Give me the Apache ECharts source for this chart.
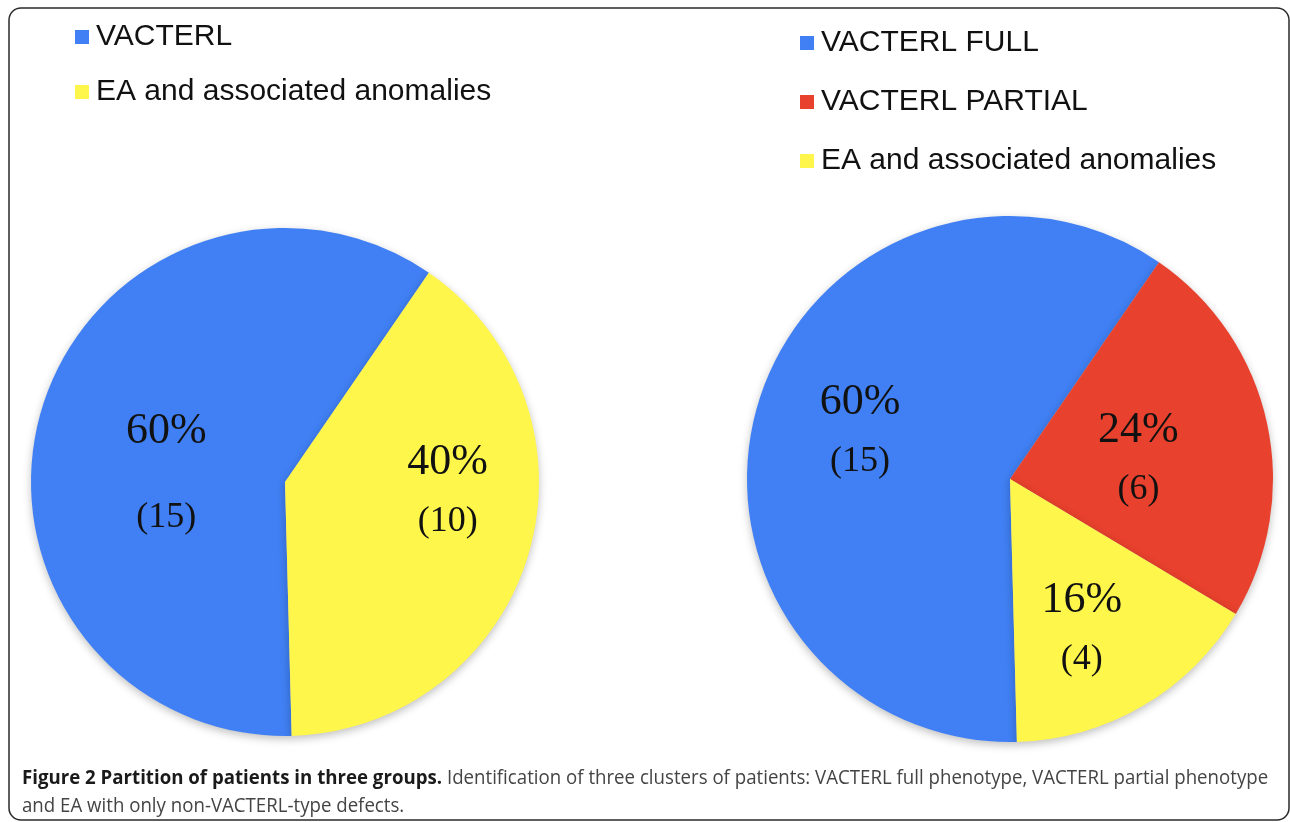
<!DOCTYPE html>
<html>
<head>
<meta charset="utf-8">
<script src="https://cdn.jsdelivr.net/npm/echarts@6/dist/echarts.min.js"></script>
<style>
html,body{margin:0;padding:0;background:#fff;}
#chart{width:1290px;height:822px;}
</style>
</head>
<body>
<div id="chart"></div>
<script>
// ---- data ----
var leftNames = ['VACTERL', 'EA and associated anomalies'];
var leftCounts = [15, 10];
var rightNames = ['VACTERL FULL', 'VACTERL PARTIAL', 'EA and associated anomalies'];
var rightCounts = [15, 6, 4];
var captionBold = 'Figure 2 Partition of patients in three groups.';
var captionText1 = ' Identification of three clusters of patients: VACTERL full phenotype, VACTERL partial phenotype';
var captionText2 = 'and EA with only non-VACTERL-type defects.';

// ---- styles ----
var BLUE = '#4080F4', YELLOW = '#FFF64C', RED = '#E8412D';
var leftColors = [BLUE, YELLOW];
var rightColors = [BLUE, RED, YELLOW];
// label offsets (style) and line gaps
var leftLabelShift = [[6, 29], [38, -27]];
var rightLabelShift = [[-21, -9], [-3, 10], [4, 35]];
var leftWide = [true, false];
var rightWide = [false, false, false];

function mkData(names, counts, colors) {
  return names.map(function (n, i) {
    return { name: n, value: counts[i], itemStyle: { color: colors[i] } };
  });
}
function mkFormatter(wide) {
  return function (p) {
    var pct = Math.round(p.percent);
    return wide[p.dataIndex]
      ? '{pw|' + pct + '%}\n{nw|(' + p.value + ')}'
      : '{p|' + pct + '%}\n{n|(' + p.value + ')}';
  };
}
var richStyles = {
  p: { fontFamily: 'Liberation Serif', fontSize: 44, lineHeight: 59, color: '#111' },
  n: { fontFamily: 'Liberation Serif', fontSize: 36, lineHeight: 59, color: '#111' },
  pw: { fontFamily: 'Liberation Serif', fontSize: 44, lineHeight: 86, color: '#111' },
  nw: { fontFamily: 'Liberation Serif', fontSize: 36, lineHeight: 86, color: '#111' }
};
var shadow = { shadowBlur: 8, shadowColor: 'rgba(0,0,0,0.25)', shadowOffsetY: 3 };

var chart = echarts.init(document.getElementById('chart'), null, { renderer: 'canvas' });
chart.setOption({
  animation: false,
  backgroundColor: '#ffffff',
  legend: [
    {
      data: leftNames, orient: 'vertical', left: 75, top: 22, padding: 0,
      itemWidth: 14, itemHeight: 14, itemGap: 25, icon: 'rect', selectedMode: false,
      textStyle: { fontFamily: 'Liberation Sans', fontSize: 30, lineHeight: 30, color: '#111', padding: [0, 0, 0, 2] }
    },
    {
      data: rightNames, orient: 'vertical', left: 800, top: 28, padding: 0,
      itemWidth: 14, itemHeight: 14, itemGap: 29, icon: 'rect', selectedMode: false,
      textStyle: { fontFamily: 'Liberation Sans', fontSize: 30, lineHeight: 30, color: '#111', padding: [0, 0, 0, 2] }
    }
  ],
  series: [
    {
      type: 'pie', center: [285, 482], radius: [0, 254], startAngle: -88.5, clockwise: true,
      data: mkData(leftNames, leftCounts, leftColors),
      itemStyle: Object.assign({ borderWidth: 0 }, shadow),
      label: { show: true, position: 'inside', formatter: mkFormatter(leftWide), rich: richStyles },
      labelLine: { show: false },
      labelLayout: function (p) { var s = leftLabelShift[p.dataIndex]; return { dx: s[0], dy: s[1] }; },
      emphasis: { disabled: true }
    },
    {
      type: 'pie', center: [1010, 479], radius: [0, 263], startAngle: -88.5, clockwise: true,
      data: mkData(rightNames, rightCounts, rightColors),
      itemStyle: Object.assign({ borderWidth: 0 }, shadow),
      label: { show: true, position: 'inside', formatter: mkFormatter(rightWide), rich: richStyles },
      labelLine: { show: false },
      labelLayout: function (p) { var s = rightLabelShift[p.dataIndex]; return { dx: s[0], dy: s[1] }; },
      emphasis: { disabled: true }
    }
  ],
  graphic: [
    {
      type: 'rect', z: -1, silent: true,
      shape: { x: 9, y: 8, width: 1280, height: 812, r: 12 },
      style: { fill: 'none', stroke: '#2a2a2a', lineWidth: 1.5 }
    },
    {
      type: 'text', x: 22, y: 764, scaleX: 0.933, originX: 0, silent: true,
      style: {
        text: '{b|' + captionBold + '}{r|' + captionText1 + '}\n{r|' + captionText2 + '}',
        verticalAlign: 'top',
        rich: {
          b: { fontFamily: 'Open Sans', fontWeight: 'bold', fontSize: 20, lineHeight: 28, fill: '#1a1a1a' },
          r: { fontFamily: 'Open Sans', fontSize: 20, lineHeight: 28, fill: '#444' }
        }
      }
    }
  ]
});
</script>
</body>
</html>
